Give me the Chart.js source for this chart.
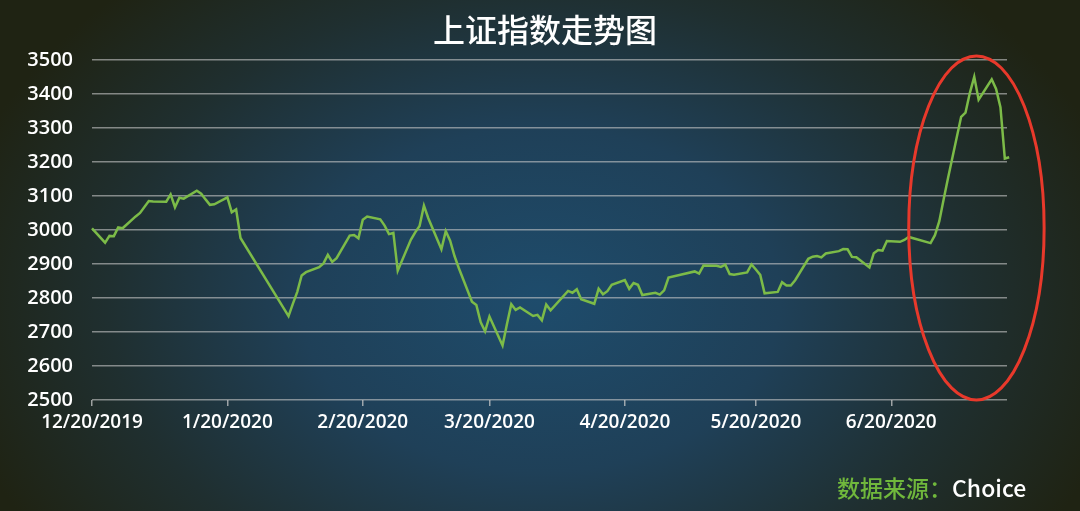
<!DOCTYPE html>
<html lang="zh-CN">
<head>
    <meta charset="UTF-8">
    <title>上证指数走势图</title>
    <script src="https://cdn.jsdelivr.net/npm/chart.js"></script>
    <style>
        body, html {
            margin: 0;
            width: 1080px;
            height: 511px;
            overflow: hidden;
            background-color: #1f2313;
            background-image: radial-gradient(ellipse 600px 430px at 540px 300px, #1e4c6c 0%, #1f4058 40%, #1f2f30 72%, #1f2313 100%);
        }
        .wrap {
            position: relative;
            width: 1080px;
            height: 511px;
        }
        .title {
            position: absolute;
            left: 0;
            width: 1090px;
            top: 8px;
            text-align: center;
            font-family: 'Noto Sans CJK SC', sans-serif;
            font-weight: 500;
            font-size: 32px;
            line-height: 40px;
            color: #ffffff;
        }
        .source {
            position: absolute;
            left: 837px;
            top: 471px;
            font-family: 'Noto Sans CJK SC', sans-serif;
            font-weight: 500;
            font-size: 23px;
            line-height: 32px;
            color: #70b83c;
        }
        .source span { color: #ffffff; }
        canvas { position: absolute; left: 0; top: 0; }
    </style>
</head>
<body>
<div class="wrap">
    <canvas id="indexChart" width="1080" height="511"></canvas>
    <div class="title">上证指数走势图</div>
    <div class="source">数据来源：<span>Choice</span></div>
</div>

<script>
    // SSE Composite closes, trading days only
    const dates = [
        '2019-12-20','2019-12-23','2019-12-24','2019-12-25','2019-12-26','2019-12-27','2019-12-30','2019-12-31',
        '2020-01-02','2020-01-03','2020-01-06','2020-01-07','2020-01-08','2020-01-09','2020-01-10','2020-01-13',
        '2020-01-14','2020-01-15','2020-01-16','2020-01-17','2020-01-20','2020-01-21','2020-01-22','2020-01-23',
        '2020-02-03','2020-02-04','2020-02-05','2020-02-06','2020-02-07','2020-02-10','2020-02-11','2020-02-12',
        '2020-02-13','2020-02-14','2020-02-17','2020-02-18','2020-02-19','2020-02-20','2020-02-21','2020-02-24',
        '2020-02-25','2020-02-26','2020-02-27','2020-02-28',
        '2020-03-02','2020-03-03','2020-03-04','2020-03-05','2020-03-06','2020-03-09','2020-03-10','2020-03-11',
        '2020-03-12','2020-03-13','2020-03-16','2020-03-17','2020-03-18','2020-03-19','2020-03-20','2020-03-23',
        '2020-03-24','2020-03-25','2020-03-26','2020-03-27','2020-03-30','2020-03-31',
        '2020-04-01','2020-04-02','2020-04-03','2020-04-07','2020-04-08','2020-04-09','2020-04-10','2020-04-13',
        '2020-04-14','2020-04-15','2020-04-16','2020-04-17','2020-04-20','2020-04-21','2020-04-22','2020-04-23',
        '2020-04-24','2020-04-27','2020-04-28','2020-04-29','2020-04-30',
        '2020-05-06','2020-05-07','2020-05-08','2020-05-11','2020-05-12','2020-05-13','2020-05-14','2020-05-15',
        '2020-05-18','2020-05-19','2020-05-20','2020-05-21','2020-05-22','2020-05-25','2020-05-26','2020-05-27',
        '2020-05-28','2020-05-29',
        '2020-06-01','2020-06-02','2020-06-03','2020-06-04','2020-06-05','2020-06-08','2020-06-09','2020-06-10',
        '2020-06-11','2020-06-12','2020-06-15','2020-06-16','2020-06-17','2020-06-18','2020-06-19','2020-06-22',
        '2020-06-23','2020-06-24','2020-06-29','2020-06-30',
        '2020-07-01','2020-07-02','2020-07-03','2020-07-06','2020-07-07','2020-07-08','2020-07-09','2020-07-10',
        '2020-07-13','2020-07-14','2020-07-15','2020-07-16','2020-07-17'
    ];
    const closes = [
        3004.94, 2962.75, 2982.68, 2981.88, 3007.35, 3005.04, 3040.02, 3050.12,
        3085.20, 3083.79, 3083.41, 3104.80, 3066.89, 3094.88, 3092.29, 3115.57,
        3106.82, 3090.04, 3074.08, 3075.50, 3095.79, 3052.14, 3060.75, 2976.53,
        2746.61, 2783.29, 2818.09, 2866.51, 2875.96, 2890.49, 2901.67, 2926.90,
        2906.07, 2917.01, 2983.62, 2984.97, 2975.40, 3030.15, 3039.67, 3031.23,
        3013.05, 2987.93, 2991.33, 2880.30,
        2970.93, 2992.90, 3011.67, 3071.68, 3034.51, 2943.29, 2996.76, 2968.52,
        2923.49, 2887.43, 2789.25, 2779.64, 2728.76, 2702.13, 2745.62, 2660.17,
        2722.44, 2781.59, 2764.91, 2772.20, 2747.21, 2750.30,
        2734.52, 2780.64, 2763.99, 2820.76, 2815.37, 2825.90, 2796.63, 2783.05,
        2827.28, 2811.17, 2819.94, 2838.50, 2852.55, 2827.01, 2843.98, 2838.80,
        2808.53, 2815.49, 2810.02, 2822.44, 2860.08,
        2878.14, 2871.52, 2895.34, 2894.80, 2891.56, 2898.05, 2870.34, 2868.46,
        2875.42, 2898.58, 2883.74, 2867.92, 2813.77, 2817.97, 2846.55, 2836.80,
        2836.80, 2852.35,
        2915.43, 2921.40, 2923.37, 2919.25, 2930.80, 2937.77, 2943.75, 2943.32,
        2920.90, 2919.74, 2890.03, 2931.75, 2941.28, 2939.32, 2967.63, 2965.27,
        2970.62, 2979.55, 2961.52, 2984.67,
        3025.98, 3090.57, 3152.81, 3332.88, 3345.34, 3403.44, 3450.59, 3383.32,
        3443.29, 3414.62, 3361.30, 3210.10, 3214.13
    ];
    const tickDates = ['2019-12-20','2020-01-20','2020-02-20','2020-03-20','2020-04-20','2020-05-20','2020-06-20'];
    const tickLabels = ['12/20/2019','1/20/2020','2/20/2020','3/20/2020','4/20/2020','5/20/2020','6/20/2020'];
    const axisEnd = '2020-07-16';
    const yMin = 2500, yMax = 3500, yStep = 100;

    // red ring around the July rally, in data units
    const ringFrom = '2020-06-24', ringTo = '2020-07-25';
    const ringLow = 2500, ringHigh = 3512;

    const DAY = 86400000;
    const start = Date.parse(dates[0]);
    const toDay = d => Math.round((Date.parse(d) - start) / DAY);

    const points = dates.map((d, i) => ({ x: toDay(d), y: closes[i] }));
    const tickDays = tickDates.map(toDay);

    const ringPlugin = {
        id: 'ring',
        afterDraw(chart) {
            const xs = chart.scales.x, ys = chart.scales.y;
            const x1 = xs.getPixelForValue(toDay(ringFrom)), x2 = xs.getPixelForValue(toDay(ringTo));
            const y1 = ys.getPixelForValue(ringHigh), y2 = ys.getPixelForValue(ringLow);
            const ctx = chart.ctx;
            ctx.save();
            ctx.beginPath();
            ctx.ellipse((x1 + x2) / 2, (y1 + y2) / 2, (x2 - x1) / 2, (y2 - y1) / 2, 0, 0, Math.PI * 2);
            ctx.strokeStyle = '#e8392b';
            ctx.lineWidth = 3;
            ctx.stroke();
            ctx.restore();
        }
    };

    const tickFont = { family: "'Open Sans', sans-serif", size: 20, weight: '600' };

    new Chart(document.getElementById('indexChart'), {
        type: 'line',
        data: {
            datasets: [{
                data: points,
                borderColor: '#7cbb48',
                borderWidth: 2.5,
                pointRadius: 0,
                tension: 0,
                clip: false
            }]
        },
        options: {
            responsive: false,
            animation: false,
            layout: { padding: { top: 60, right: 73, bottom: 0, left: 0 } },
            plugins: { legend: { display: false }, tooltip: { enabled: false } },
            scales: {
                x: {
                    type: 'linear',
                    min: 0,
                    // half a day past the last gridline so the final close is still drawn
                    max: toDay(axisEnd) + 0.5,
                    afterBuildTicks: s => { s.ticks = tickDays.map(v => ({ value: v })); },
                    afterFit: s => { s.height = 111; },
                    grid: {
                        drawOnChartArea: false,
                        drawTicks: true,
                        tickLength: 6,
                        color: 'rgba(200,200,200,0.75)',
                        lineWidth: 1.5
                    },
                    border: { display: false },
                    ticks: {
                        autoSkip: false,
                        maxRotation: 0,
                        padding: 5,
                        color: '#ffffff',
                        font: { family: "'Open Sans', sans-serif", size: 19, weight: '600' },
                        callback: v => tickLabels[tickDays.indexOf(v)]
                    }
                },
                y: {
                    min: yMin,
                    max: yMax,
                    afterFit: s => { s.width = 92; },
                    grid: {
                        drawTicks: false,
                        color: 'rgba(200,200,200,0.6)',
                        lineWidth: 1.5
                    },
                    border: { display: false },
                    ticks: {
                        stepSize: yStep,
                        padding: 19,
                        color: '#ffffff',
                        font: tickFont,
                        callback: v => String(v)
                    }
                }
            }
        },
        plugins: [ringPlugin]
    });
</script>
</body>
</html>
